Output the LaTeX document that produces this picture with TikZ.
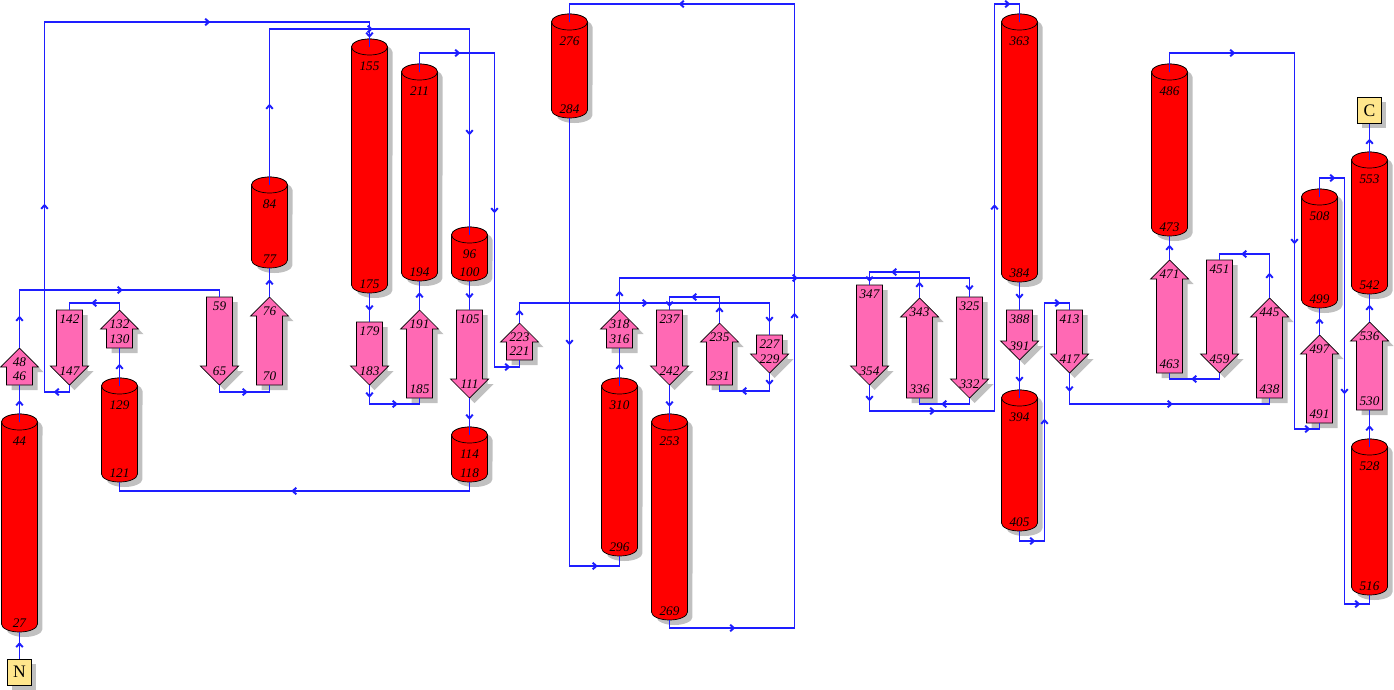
\documentclass[tikz,border=0pt]{standalone}
\usepackage{fontspec}
\setmainfont{Liberation Serif}
\usepackage{tikz}
\usetikzlibrary{positioning, shadows}

\definecolor{helixred}{RGB}{255,0,0}
\definecolor{strandpink}{RGB}{255,105,180}
\definecolor{shadowgray}{RGB}{192,192,192}
\definecolor{linkblue}{RGB}{30,30,255}
\definecolor{termyellow}{RGB}{255,230,140}

\tikzset{
  helixbody/.style={draw=black, line width=0.4pt, fill=helixred},
  strandbody/.style={draw=black, line width=0.4pt, fill=strandpink},
  resnum/.style={font=\fontsize{7.5}{9}\selectfont\itshape, inner sep=0pt},
  termbox/.style={draw=black, line width=0.4pt, fill=termyellow, minimum width=0.48cm, minimum height=0.52cm, inner sep=0pt,
    drop shadow={shadow xshift=0.09cm, shadow yshift=-0.09cm, fill=shadowgray, opacity=1}},
  conn/.style={draw=linkblue, line width=1.1pt},
  onseg/.style={pos=.5, sloped, allow upside down},
  leg1/.style={pos=.25, sloped, allow upside down},
  leg2/.style={pos=.75, sloped, allow upside down},
  pics/chev/.style={code={
    \draw[linkblue, line width=1.1pt, line join=round] (-1.8,3.3) -- (1.8,0) -- (-1.8,-3.3);
  }},
  % helix: length, top label, bottom label
  pics/helix/.style n args={3}{code={
    \fill[shadowgray, shift={(5,-5)}] (-18,-8) -- (-18,{8-#1}) arc[start angle=180, end angle=360, x radius=0.36cm, y radius=0.16cm] -- (18,-8) arc[start angle=0, end angle=180, x radius=0.36cm, y radius=0.16cm] -- cycle;
    \filldraw[helixbody] (-18,-8) -- (-18,{8-#1}) arc[start angle=180, end angle=360, x radius=0.36cm, y radius=0.16cm] -- (18,-8) arc[start angle=0, end angle=180, x radius=0.36cm, y radius=0.16cm] -- cycle;
    \filldraw[helixbody] (0,-8) ellipse[x radius=0.36cm, y radius=0.16cm];
    \node[resnum] (-top) at (0,-27) {#2};
    \node[resnum] (-bot) at (0,{9-#1}) {#3};
    \coordinate (-n) at (0,-8);
    \coordinate (-s) at (0,-#1);
  }},
  % strand pointing up: length, top label, bottom label
  pics/strandup/.style n args={3}{code={
    \fill[shadowgray, shift={(5,-5)}] (0,0) -- (19,-19) -- (13,-19) -- (13,-#1) -- (-13,-#1) -- (-13,-19) -- (-19,-19) -- cycle;
    \filldraw[strandbody] (0,0) -- (19,-19) -- (13,-19) -- (13,-#1) -- (-13,-#1) -- (-13,-19) -- (-19,-19) -- cycle;
    \node[resnum] (-top) at (0,-14) {#2};
    \node[resnum] (-bot) at (0,{9-#1}) {#3};
    \coordinate (-n) at (0,0);
    \coordinate (-s) at (0,-#1);
  }},
  % strand pointing down: length, top label, bottom label
  pics/stranddown/.style n args={3}{code={
    \fill[shadowgray, shift={(5,-5)}] (-13,0) -- (13,0) -- (13,{19-#1}) -- (19,{19-#1}) -- (0,-#1) -- (-19,{19-#1}) -- (-13,{19-#1}) -- cycle;
    \filldraw[strandbody] (-13,0) -- (13,0) -- (13,{19-#1}) -- (19,{19-#1}) -- (0,-#1) -- (-19,{19-#1}) -- (-13,{19-#1}) -- cycle;
    \node[resnum] (-top) at (0,-9) {#2};
    \node[resnum] (-bot) at (0,{14-#1}) {#3};
    \coordinate (-n) at (0,0);
    \coordinate (-s) at (0,-#1);
  }}
}

\begin{document}
\begin{tikzpicture}[x=0.02cm, y=0.02cm]
\useasboundingbox (0,0) rectangle (1394,-690);

% helices
\pic (h27)  at (19.5,-414)   {helix={218}{44}{27}};
\pic (h121) at (119.5,-378)  {helix={104}{129}{121}};
\pic (h77)  at (269.5,-177)  {helix={91}{84}{77}};
\pic (h155) at (369.5,-39)   {helix={254}{155}{175}};
\pic (h194) at (419.5,-64)   {helix={217}{211}{194}};
\pic (h96)  at (469.5,-227)  {helix={54}{96}{100}};
\pic (h114) at (469.5,-427)  {helix={55}{114}{118}};
\pic (h276) at (569.5,-14)   {helix={104}{276}{284}};
\pic (h296) at (619.5,-378)  {helix={178}{310}{296}};
\pic (h253) at (669.5,-414)  {helix={206}{253}{269}};
\pic (h363) at (1019.5,-14)  {helix={268}{363}{384}};
\pic (h394) at (1019.5,-390) {helix={141}{394}{405}};
\pic (h473) at (1169.5,-64)  {helix={172}{486}{473}};
\pic (h499) at (1319.5,-189) {helix={119}{508}{499}};
\pic (h542) at (1369.5,-152) {helix={142}{553}{542}};
\pic (h516) at (1369.5,-439) {helix={156}{528}{516}};

% strands
\pic (s46)  at (19.5,-348)   {strandup={37}{48}{46}};
\pic (s130) at (119.5,-310)  {strandup={38}{132}{130}};
\pic (s70)  at (269.5,-297)  {strandup={88}{76}{70}};
\pic (s185) at (419.5,-310)  {strandup={88}{191}{185}};
\pic (s221) at (519.5,-323)  {strandup={37}{223}{221}};
\pic (s316) at (619.5,-310)  {strandup={38}{318}{316}};
\pic (s231) at (719.5,-323)  {strandup={62}{235}{231}};
\pic (s336) at (919.5,-298)  {strandup={100}{343}{336}};
\pic (s438) at (1269.5,-298) {strandup={100}{445}{438}};
\pic (s463) at (1169.5,-260) {strandup={113}{471}{463}};
\pic (s491) at (1319.5,-335) {strandup={88}{497}{491}};
\pic (s530) at (1369.5,-322) {strandup={88}{536}{530}};

\pic (s142) at (69.5,-310)   {stranddown={75}{142}{147}};
\pic (s59)  at (219.5,-297)  {stranddown={88}{59}{65}};
\pic (s179) at (369.5,-322)  {stranddown={63}{179}{183}};
\pic (s105) at (469.5,-310)  {stranddown={88}{105}{111}};
\pic (s237) at (669.5,-310)  {stranddown={75}{237}{242}};
\pic (s227) at (769.5,-335)  {stranddown={38}{227}{229}};
\pic (s347) at (869.5,-285)  {stranddown={100}{347}{354}};
\pic (s325) at (969.5,-297)  {stranddown={101}{325}{332}};
\pic (s388) at (1019.5,-310) {stranddown={50}{388}{391}};
\pic (s413) at (1069.5,-310) {stranddown={63}{413}{417}};
\pic (s451) at (1219.5,-260) {stranddown={113}{451}{459}};

% termini
\node[termbox] (nterm) at (19.5,-672) {N};
\node[termbox] (cterm) at (1369.5,-110.5) {C};

% connections
\draw[conn] (nterm) -- pic[onseg]{chev} (h27-s);
\draw[conn] (h27-n) -- pic[onseg]{chev} (s46-s);
\draw[conn] (s46-n) -- pic[onseg]{chev} ++(0,58) -| pic[leg1]{chev} (s59-n);
\draw[conn] (s59-s) -- ++(0,-7) -| pic[leg1]{chev} (s70-s);
\draw[conn] (s70-n) -- pic[onseg]{chev} (h77-s);
\draw[conn] (h77-n) -- pic[onseg]{chev} ++(0,156) -| pic[leg1]{chev} pic[leg2]{chev} (h96-n);
\draw[conn] (h96-s) -- pic[onseg]{chev} (s105-n);
\draw[conn] (s105-s) -- pic[onseg]{chev} (h114-n);
\draw[conn] (h114-s) -- ++(0,-9) -| pic[leg1]{chev} (h121-s);
\draw[conn] (h121-n) -- pic[onseg]{chev} (s130-s);
\draw[conn] (s130-n) -- ++(0,7) -| pic[leg1]{chev} (s142-n);
\draw[conn] (s142-s) -- ++(0,-7) -- pic[onseg]{chev} ++(-25,0) -- pic[onseg]{chev} ++(0,370) -| pic[leg1]{chev} pic[leg2]{chev} (h155-n);
\draw[conn] (h155-s) -- pic[onseg]{chev} (s179-n);
\draw[conn] (s179-s) -- pic[onseg]{chev} ++(0,-19) -| pic[leg1]{chev} (s185-s);
\draw[conn] (s185-n) -- pic[onseg]{chev} (h194-s);
\draw[conn] (h194-n) -- ++(0,19) -- pic[onseg]{chev} ++(75,0) -- pic[onseg]{chev} ++(0,-314) -| pic[leg1]{chev} (s221-s);
\draw[conn] (s221-n) -- pic[onseg]{chev} ++(0,20) -| pic[leg1]{chev} pic[leg2]{chev} (s227-n);
\draw[conn] (s227-s) -- pic[onseg]{chev} ++(0,-18) -| pic[leg1]{chev} (s231-s);
\draw[conn] (s231-n) -- pic[onseg]{chev} ++(0,26) -| pic[leg1]{chev} pic[leg2]{chev} (s237-n);
\draw[conn] (s237-s) -- pic[onseg]{chev} (h253-n);
\draw[conn] (h253-s) -- ++(0,-8) -- pic[onseg]{chev} ++(125,0) -- pic[onseg]{chev} ++(0,624) -| pic[leg1]{chev} (h276-n);
\draw[conn] (h276-s) -- pic[onseg]{chev} ++(0,-448) -| pic[leg1]{chev} (h296-s);
\draw[conn] (h296-n) -- pic[onseg]{chev} (s316-s);
\draw[conn] (s316-n) -- pic[onseg]{chev} ++(0,32) -| pic[leg1]{chev} pic[leg2]{chev} (s325-n);
\draw[conn] (s325-s) -- ++(0,-6) -| pic[leg1]{chev} (s336-s);
\draw[conn] (s336-n) -- pic[onseg]{chev} ++(0,26) -| pic[leg1]{chev} pic[leg2]{chev} (s347-n);
\draw[conn] (s347-s) -- pic[onseg]{chev} ++(0,-26) -- pic[onseg]{chev} ++(125,0) -- pic[onseg]{chev} ++(0,407) -| pic[leg1]{chev} (h363-n);
\draw[conn] (h363-s) -- pic[onseg]{chev} (s388-n);
\draw[conn] (s388-s) -- pic[onseg]{chev} (h394-n);
\draw[conn] (h394-s) -- ++(0,-10) -- pic[onseg]{chev} ++(25,0) -- pic[onseg]{chev} ++(0,238) -| pic[leg1]{chev} (s413-n);
\draw[conn] (s413-s) -- pic[onseg]{chev} ++(0,-31) -| pic[leg1]{chev} (s438-s);
\draw[conn] (s438-n) -- pic[onseg]{chev} ++(0,44) -| pic[leg1]{chev} (s451-n);
\draw[conn] (s451-s) -- ++(0,-6) -| pic[leg1]{chev} (s463-s);
\draw[conn] (s463-n) -- pic[onseg]{chev} (h473-s);
\draw[conn] (h473-n) -- ++(0,19) -- pic[onseg]{chev} ++(125,0) -- pic[onseg]{chev} ++(0,-376) -| pic[leg1]{chev} (s491-s);
\draw[conn] (s491-n) -- pic[onseg]{chev} (h499-s);
\draw[conn] (h499-n) -- ++(0,19) -- pic[onseg]{chev} ++(25,0) -- pic[onseg]{chev} ++(0,-426) -| pic[leg1]{chev} (h516-s);
\draw[conn] (h516-n) -- pic[onseg]{chev} (s530-s);
\draw[conn] (s530-n) -- pic[onseg]{chev} (h542-s);
\draw[conn] (h542-n) -- pic[onseg]{chev} (cterm);
\end{tikzpicture}
\end{document}
